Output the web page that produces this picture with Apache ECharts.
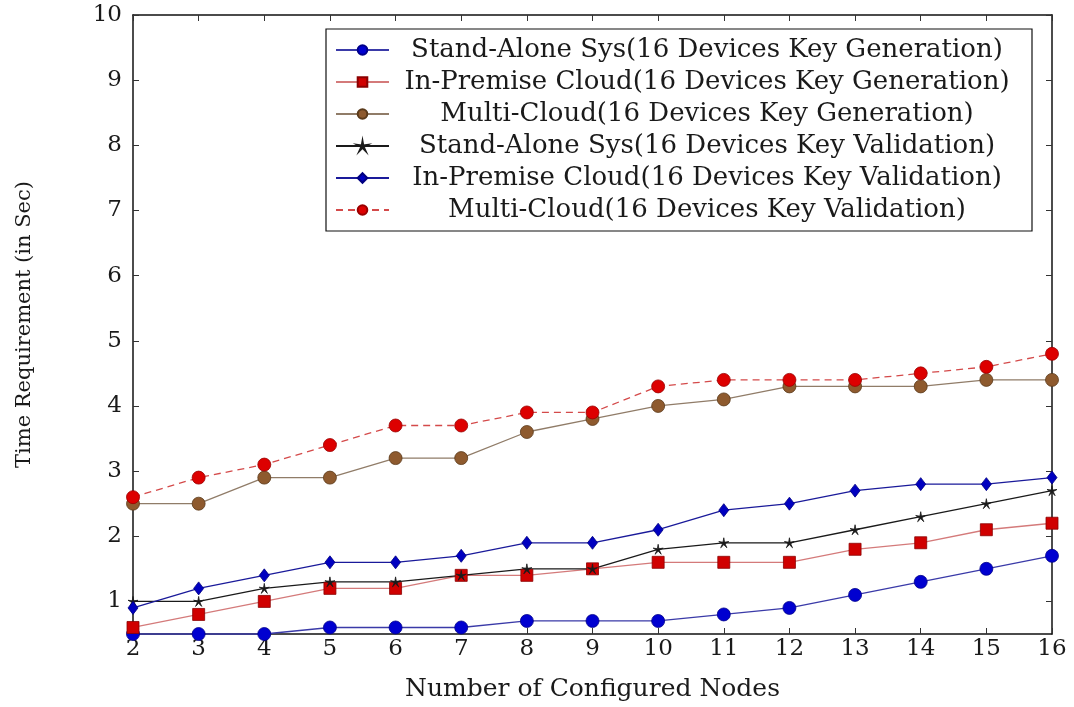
<!DOCTYPE html>
<html>
<head>
<meta charset="utf-8">
<script src="https://cdn.jsdelivr.net/npm/echarts@6/dist/echarts.min.js"></script>
<style>html,body{margin:0;padding:0;background:#fff}#c{width:1074px;height:707px}</style>
</head>
<body>
<div id="c"></div>
<script>
const nodes = [2,3,4,5,6,7,8,9,10,11,12,13,14,15,16];
const yTicks = [1,2,3,4,5,6,7,8,9,10];
const names = [
  'Stand-Alone Sys(16 Devices Key Generation)',
  'In-Premise Cloud(16 Devices Key Generation)',
  'Multi-Cloud(16 Devices Key Generation)',
  'Stand-Alone Sys(16 Devices Key Validation)',
  'In-Premise Cloud(16 Devices Key Validation)',
  'Multi-Cloud(16 Devices Key Validation)'
];
const saGen = [0.5,0.5,0.5,0.6,0.6,0.6,0.7,0.7,0.7,0.8,0.9,1.1,1.3,1.5,1.7];
const ipGen = [0.6,0.8,1.0,1.2,1.2,1.4,1.4,1.5,1.6,1.6,1.6,1.8,1.9,2.1,2.2];
const mcGen = [2.5,2.5,2.9,2.9,3.2,3.2,3.6,3.8,4.0,4.1,4.3,4.3,4.3,4.4,4.4];
const saVal = [1.0,1.0,1.2,1.3,1.3,1.4,1.5,1.5,1.8,1.9,1.9,2.1,2.3,2.5,2.7];
const ipVal = [0.9,1.2,1.4,1.6,1.6,1.7,1.9,1.9,2.1,2.4,2.5,2.7,2.8,2.8,2.9];
const mcVal = [2.6,2.9,3.1,3.4,3.7,3.7,3.9,3.9,4.3,4.4,4.4,4.4,4.5,4.6,4.8];

const FONT = 'DejaVu Serif';
const star = 'path://M0,-10 L1.47,-2.02 L9.51,-3.09 L2.38,0.77 L5.88,8.09 L0,2.5 L-5.88,8.09 L-2.38,0.77 L-9.51,-3.09 L-1.47,-2.02 Z';
const pairs = arr => arr.map((v, i) => [nodes[i], v]);

function mk(name, data, lineColor, markColor, borderColor, symbol, size, dashed) {
  return {
    name: name, type: 'line', data: pairs(data),
    symbol: symbol, symbolSize: size,
    lineStyle: { color: lineColor, width: 1.3, type: dashed ? [7, 5] : 'solid' },
    itemStyle: { color: markColor, borderColor: borderColor, borderWidth: 0.8 },
    emphasis: { disabled: true }, animation: false, clip: false
  };
}

const chart = echarts.init(document.getElementById('c'));
const axisLine = { show: true, lineStyle: { color: '#111', width: 1.5 } };
const tick = { show: true, inside: true, length: 6, lineStyle: { color: '#333', width: 1 } };
chart.setOption({
  animation: false,
  backgroundColor: '#fff',
  grid: { left: 133, right: 22, top: 15, bottom: 72, containLabel: false },
  legend: {
    orient: 'vertical', left: 326, top: 29,
    padding: [8, 12, 8, 9], itemGap: 6, itemWidth: 53, itemHeight: 12, itemTextGap: 4,
    borderColor: '#111', borderWidth: 1.2, backgroundColor: '#fff',
    data: names,
    formatter: n => '{c|' + n + '}',
    textStyle: {
      rich: { c: { width: 626, align: 'center', fontFamily: FONT, fontSize: 26, lineHeight: 26, color: '#1a1a1a' } }
    },
    selectedMode: false
  },
  xAxis: [{
    type: 'value', min: 2, max: 16, interval: 1, position: 'bottom',
    name: 'Number of Configured Nodes', nameLocation: 'middle', nameGap: 43,
    nameTextStyle: { fontFamily: FONT, fontSize: 25, color: '#1a1a1a' },
    axisLine: axisLine, axisTick: tick, splitLine: { show: false },
    axisLabel: { fontFamily: FONT, fontSize: 23, color: '#1a1a1a', margin: 4 }
  }, {
    type: 'value', min: 2, max: 16, interval: 1, position: 'top',
    axisLine: axisLine, axisTick: tick, splitLine: { show: false }, axisLabel: { show: false }
  }],
  yAxis: [{
    type: 'value', min: 0.5, max: 10, position: 'left',
    name: 'Time Requirement (in Sec)', nameLocation: 'middle', nameGap: 98,
    nameTextStyle: { fontFamily: FONT, fontSize: 21, color: '#1a1a1a' },
    axisLine: axisLine,
    axisTick: Object.assign({ customValues: yTicks }, tick),
    splitLine: { show: false },
    axisLabel: { customValues: yTicks, fontFamily: FONT, fontSize: 23, color: '#1a1a1a', margin: 11 }
  }, {
    type: 'value', min: 0.5, max: 10, position: 'right',
    axisLine: axisLine,
    axisTick: Object.assign({ customValues: yTicks }, tick),
    splitLine: { show: false }, axisLabel: { show: false }
  }],
  series: [
    mk(names[0], saGen, '#3a3aa8', '#0000d0', '#00008a', 'circle', 13, false),
    mk(names[1], ipGen, '#d47a7a', '#d00000', '#8a0000', 'rect', 12, false),
    mk(names[2], mcGen, '#907c68', '#8e5a2e', '#5a3a1a', 'circle', 13, false),
    mk(names[3], saVal, '#1a1a1a', '#1a1a1a', '#1a1a1a', star, 10, false),
    mk(names[4], ipVal, '#1a1a9a', '#0000c0', '#000080', 'diamond', [10, 13], false),
    mk(names[5], mcVal, '#d44a4a', '#dd0000', '#990000', 'circle', 13, true)
  ]
});
</script>
</body>
</html>
